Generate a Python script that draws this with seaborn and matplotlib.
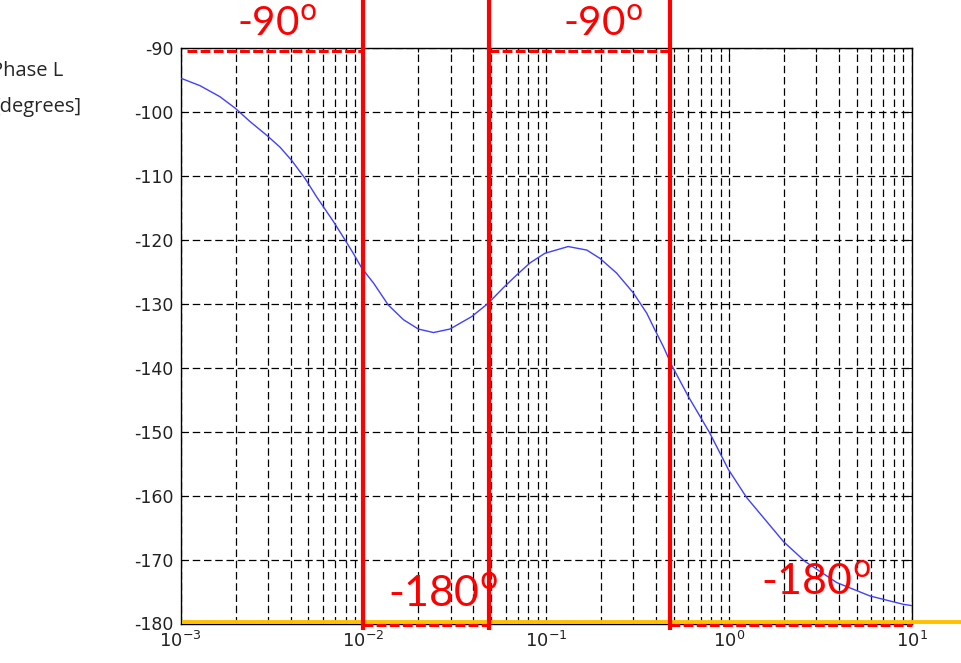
import numpy as np
import pandas as pd
import matplotlib
matplotlib.use("Agg")
import matplotlib.pyplot as plt
from matplotlib.ticker import LogLocator, NullFormatter
import seaborn as sns

# ---- data ----
freq = [0.001, 0.00128, 0.00164, 0.00199, 0.0024, 0.00299, 0.0035, 0.00406,
        0.0048, 0.00556, 0.00685, 0.00794, 0.00881, 0.0098, 0.0114, 0.0137,
        0.0166, 0.02, 0.0242, 0.0298, 0.0392, 0.0483, 0.0583, 0.069, 0.0817,
        0.0986, 0.132, 0.167, 0.197, 0.243, 0.3, 0.355, 0.394, 0.438, 0.486,
        0.6, 0.782, 0.993, 1.25, 1.99, 2.61, 3.89, 5.92, 9.0, 10.0]
phase = [-94.7, -95.9, -97.6, -99.4, -101.5, -103.75, -105.5, -107.6,
         -110.4, -113.3, -117.1, -120.0, -122.1, -124.4, -126.8, -130.2,
         -132.5, -133.95, -134.5, -133.95, -132.0, -129.9, -127.5, -125.5, -123.6,
         -122.1, -121.05, -121.6, -122.9, -125.2, -128.3, -131.45, -134.1, -136.7, -139.6,
         -144.5, -150.1, -155.9, -160.3, -167.2, -170.3, -173.6, -175.7, -177.0, -177.2]
yticks = [-180, -170, -160, -150, -140, -130, -120, -110, -100, -90]
boundaries = [0.0099, 0.049, 0.475]                  # red vertical lines
top_segments = [(0.00108, 0.0099), (0.049, 0.475)]   # red dashed at -90
bottom_segments = [(0.0099, 0.049), (0.475, 10.0)]   # red dashed at -180
labels_90 = ["-90", "-90"]
labels_180 = ["-180", "-180"]

df = pd.DataFrame({"freq": freq, "phase": phase})

sns.set_theme(style="white")
plt.rcParams["font.family"] = ["DejaVu Sans"]
plt.rcParams["mathtext.fontset"] = "dejavusans"
plt.rcParams["axes.unicode_minus"] = False

W, H = 961, 663
fig = plt.figure(figsize=(W / 100, H / 100), dpi=100)
ax = fig.add_axes([180.5 / W, 1 - 623.5 / H, (911.7 - 180.5) / W, (623.5 - 48) / H])
ax.set_xscale("log")

sns.lineplot(data=df, x="freq", y="phase", ax=ax, color="#4040ff", lw=1.0,
             estimator=None, sort=False, zorder=4)

ax.set_xlim(1e-3, 10)
ax.set_ylim(-180, -90)
ax.set_yticks(yticks)
ax.set_xlabel("")
ax.set_ylabel("")
ax.xaxis.set_major_locator(LogLocator(base=10, numticks=10))
ax.xaxis.set_minor_locator(LogLocator(base=10, subs=range(2, 10), numticks=50))
ax.xaxis.set_minor_formatter(NullFormatter())

gls = (0, (6, 3))
ax.grid(True, which="major", axis="both", color="black", linestyle=gls, lw=0.9)
ax.grid(True, which="minor", axis="x", color="black", linestyle=gls, lw=0.9)

ax.tick_params(which="both", direction="in", top=True, right=True,
               color="black", width=0.8)
ax.tick_params(which="major", length=6)
ax.tick_params(which="minor", length=3)
ax.tick_params(axis="y", labelsize=12.5, pad=5.0, labelcolor="#222222")
ax.tick_params(axis="x", labelsize=13, pad=5.5, labelcolor="#222222")
for s in ax.spines.values():
    s.set_color("black")
    s.set_linewidth(1.0)
    s.set_visible(True)

# red vertical lines
xt = ax.get_xaxis_transform()
for f in boundaries:
    ax.plot([f, f], [-0.012, 1.09], transform=xt, color="red", lw=3.0,
            clip_on=False, zorder=7, solid_capstyle="butt")

# red dashed horizontal segments
for a, b in top_segments:
    ax.plot([a, b], [-90.4, -90.4], color="red", lw=2.2, ls=(0, (3.2, 1.1)),
            clip_on=False, zorder=6)
for a, b in bottom_segments:
    ax.plot([a, b], [-180.25, -180.25], color="red", lw=2.2, ls=(0, (3.2, 1.1)),
            clip_on=False, zorder=6)

# yellow line at -180 extending past the axes
ax.plot([1.02e-3, 40], [-179.75, -179.75], color="#FFC000", lw=2.8,
        clip_on=False, zorder=6, solid_capstyle="butt")

ax.set_xlim(1e-3, 10)
ax.set_ylim(-180, -90)

# annotations
deg = r"$^{\mathrm{o}}$"
fam = ["Lato", "DejaVu Sans"]
fig.text(237 / W, 1 - 35.5 / H, labels_90[0] + deg, color="red", fontsize=29,
         family=fam, ha="left", va="baseline")
fig.text(563 / W, 1 - 36 / H, labels_90[1] + deg, color="red", fontsize=29,
         family=fam, ha="left", va="baseline")
fig.text(388 / W, 1 - 606.5 / H, labels_180[0] + deg, color="red", fontsize=31,
         family=fam, ha="left", va="baseline", zorder=10)
fig.text(761 / W, 1 - 595 / H, labels_180[1] + deg, color="red", fontsize=31,
         family=fam, ha="left", va="baseline", zorder=10)

# y axis label (partly cut at the figure edge, as in the reference)
lab_fam = ["Open Sans", "DejaVu Sans"]
fig.text(-9 / W, 1 - 75.7 / H, "Phase L", color="#262626", fontsize=14.5,
         family=lab_fam, ha="left", va="baseline")
fig.text(-7 / W, 1 - 111.7 / H, "[degrees]", color="#262626", fontsize=14.5,
         family=lab_fam, ha="left", va="baseline")

fig.savefig("out.png", dpi=100)
